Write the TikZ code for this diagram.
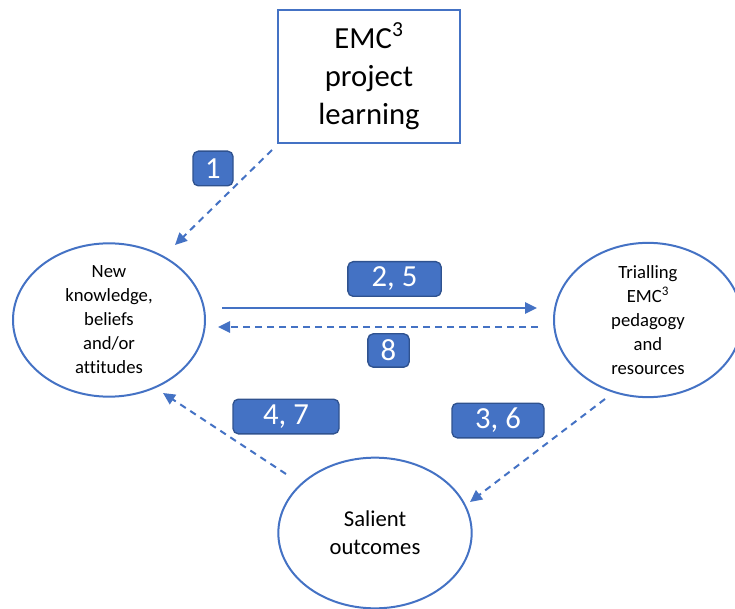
\documentclass[tikz,border=0pt]{standalone}
\usepackage{fontspec}
\setmainfont{Carlito}[Ligatures=NoCommon]
\usetikzlibrary{shapes,arrows.meta,positioning,calc}
\definecolor{emcblue}{HTML}{4472C4}
\definecolor{emcdark}{HTML}{2F528F}

\begin{document}
\begin{tikzpicture}[x=0.75pt, y=-0.75pt,
    idea/.style={ellipse, draw=emcblue, line width=1.5pt, inner sep=0pt, align=center},
    step num/.style={rectangle, rounded corners=4pt, draw=emcdark, line width=1pt, fill=emcblue, text=white, font=\fontsize{23}{26}\selectfont, minimum height=26pt, inner sep=0pt},
    flow/.style={emcblue, line width=1.5pt, -{Triangle[length=9pt, width=8.5pt]}},
    flowd/.style={flow, dash pattern=on 5pt off 4pt}]
    \useasboundingbox (0,0) rectangle (735,609);

    \node[rectangle, draw=emcblue, line width=1.5pt, minimum width=136.5pt, minimum height=100pt, align=center, font=\fontsize{23}{28.5}\selectfont] (proj) at (369,76.5) {EMC\textsuperscript{3}\\project\\learning};
    \node[idea, minimum width=144pt, minimum height=115pt, font=\fontsize{14}{18}\selectfont] (know) at (109,320) {New\\knowledge,\\beliefs\\and/or\\attitudes};
    \node[idea, minimum width=141pt, minimum height=115pt, font=\fontsize{14}{18}\selectfont] (trial) at (648,320) {Trialling\\EMC\textsuperscript{3}\\pedagogy\\and\\resources};
    \node[idea, minimum width=145pt, minimum height=113pt, font=\fontsize{17}{21}\selectfont] (sal) at (375,533) {Salient\\outcomes};

    \coordinate (p1) at (272,150);
    \coordinate (k1) at (175,245);
    \coordinate (k2) at (222,308);
    \coordinate (t2) at (537,308);
    \coordinate (t8) at (538,327);
    \coordinate (k8) at (218,327);
    \coordinate (t3) at (605,399);
    \coordinate (s3) at (470,502);
    \coordinate (s4) at (286,474);
    \coordinate (k4) at (163,393);

    \draw[flowd] (p1) -- (k1);
    \draw[flow] (k2) -- (t2);
    \draw[flowd] (t8) -- (k8);
    \draw[flowd] (t3) -- (s3);
    \draw[flowd] (s4) -- (k4);

    \node[step num, minimum width=30pt] (n1) at (213,168.5) {1};
    \node[step num, minimum width=70pt] (n25) at (394.5,279) {2, 5};
    \node[step num, minimum width=31pt, minimum height=25pt] (n8) at (388.5,350.5) {8};
    \node[step num, minimum width=79.5pt] (n47) at (286,416.5) {4, 7};
    \node[step num, minimum width=69pt] (n36) at (498,420.5) {3, 6};
\end{tikzpicture}
\end{document}
